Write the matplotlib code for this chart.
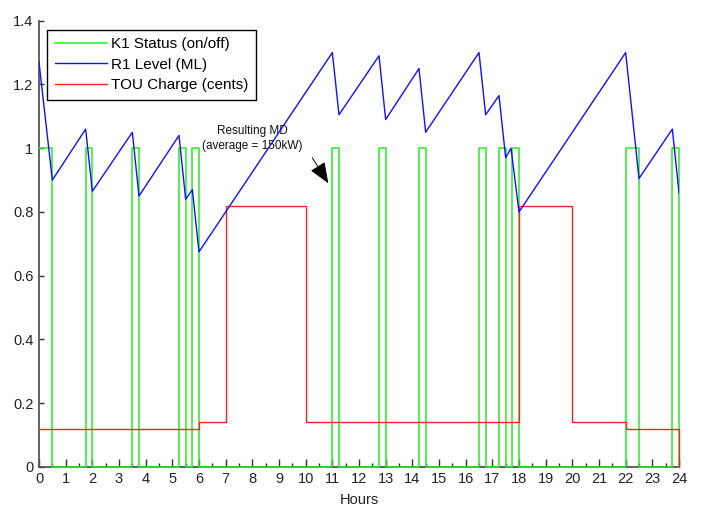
import matplotlib
matplotlib.use('Agg')
import matplotlib.pyplot as plt
import numpy as np

plt.rcParams['font.family'] = ['Liberation Sans', 'DejaVu Sans']

# K1 pump status (step, post), last point closes back to 0 at 24 h
k1_t = [0, 0.5, 1.75, 2.0, 3.5, 3.75, 5.25, 5.5, 5.75, 6.0, 11.0, 11.25,
        12.75, 13.0, 14.25, 14.5, 16.5, 16.75, 17.25, 17.5, 17.75, 18.0,
        22.0, 22.5, 23.75, 24.0]
k1_v = [1, 0, 1, 0, 1, 0, 1, 0, 1, 0, 1, 0,
        1, 0, 1, 0, 1, 0, 1, 0, 1, 0,
        1, 0, 1, 0]

# R1 reservoir level (ML)
r1_t = [0, 0.5, 1.75, 2.0, 3.5, 3.75, 5.25, 5.5, 5.75, 6.0, 11.0, 11.25,
        12.75, 13.0, 14.25, 14.5, 16.5, 16.75, 17.25, 17.5, 17.7, 18.0,
        22.0, 22.5, 23.75, 24.0]
r1_v = [1.27, 0.90, 1.06, 0.865, 1.05, 0.85, 1.04, 0.84, 0.87, 0.675, 1.30, 1.105,
        1.29, 1.09, 1.25, 1.05, 1.30, 1.105, 1.165, 0.97, 1.0, 0.80,
        1.30, 0.905, 1.06, 0.86]

# time-of-use tariff (cents)
tou_t = [0, 6, 7, 10, 18, 20, 22, 24]
tou_v = [0.12, 0.14, 0.82, 0.14, 0.82, 0.14, 0.12, 0]

fig = plt.figure(figsize=(7.01, 5.08), dpi=100)
ax = fig.add_axes([39/701, 1 - 467/508, 640/701, 446.3/508])

ax.step(k1_t, k1_v, where='post', color='#22ee22', lw=1.1, label='K1 Status (on/off)',
        clip_on=False, zorder=3)
ax.plot(r1_t, r1_v, color='#1010ff', lw=1.0, label='R1 Level (ML)', zorder=4)
ax.step(tou_t, tou_v, where='post', color='#ff2020', lw=1.0, label='TOU Charge (cents)',
        clip_on=False, zorder=3.5)

ax.set_xlim(0, 24)
ax.set_ylim(0, 1.4)
ax.set_xticks(np.arange(0, 25, 1))
ax.set_xticks(np.arange(0.5, 24, 1), minor=True)
ax.set_yticks(np.arange(0, 1.41, 0.2))
ax.set_yticklabels(['0', '0.2', '0.4', '0.6', '0.8', '1', '1.2', '1.4'])

for s in ['top', 'right']:
    ax.spines[s].set_visible(False)
for s in ['left', 'bottom']:
    ax.spines[s].set_color('#555555')
    ax.spines[s].set_linewidth(1.3)

ax.tick_params(axis='x', which='major', direction='in', length=5.5, width=1,
               color='#333333', labelsize=10.5, pad=3.5, labelcolor='#222222')
ax.tick_params(axis='x', which='minor', direction='in', length=3, width=1, color='#333333')
ax.tick_params(axis='y', direction='in', length=3.6, width=1, color='#333333',
               labelsize=10.5, pad=4, labelcolor='#222222')

ax.set_xlabel('Hours', fontsize=10.5, labelpad=5, color='#222222')

leg = ax.legend(loc='upper left', bbox_to_anchor=(0.0125, 0.98), fontsize=11,
                frameon=True, fancybox=False, edgecolor='black', framealpha=1,
                handlelength=3.4, borderaxespad=0, labelspacing=0.42,
                borderpad=0.5, handletextpad=0.3)
leg.get_frame().set_linewidth(1.0)

ax.text(8.0, 1.03, 'Resulting MD\n(average = 150kW)', ha='center', va='center',
        fontsize=8.5, color='#111111', linespacing=1.35)
ax.annotate('', xy=(10.85, 0.89), xytext=(10.25, 0.97),
            arrowprops=dict(arrowstyle='-|>,head_length=1.0,head_width=0.4',
                            color='black', lw=0.7, mutation_scale=13,
                            shrinkA=0, shrinkB=0))

fig.savefig('out.png', dpi=100)
